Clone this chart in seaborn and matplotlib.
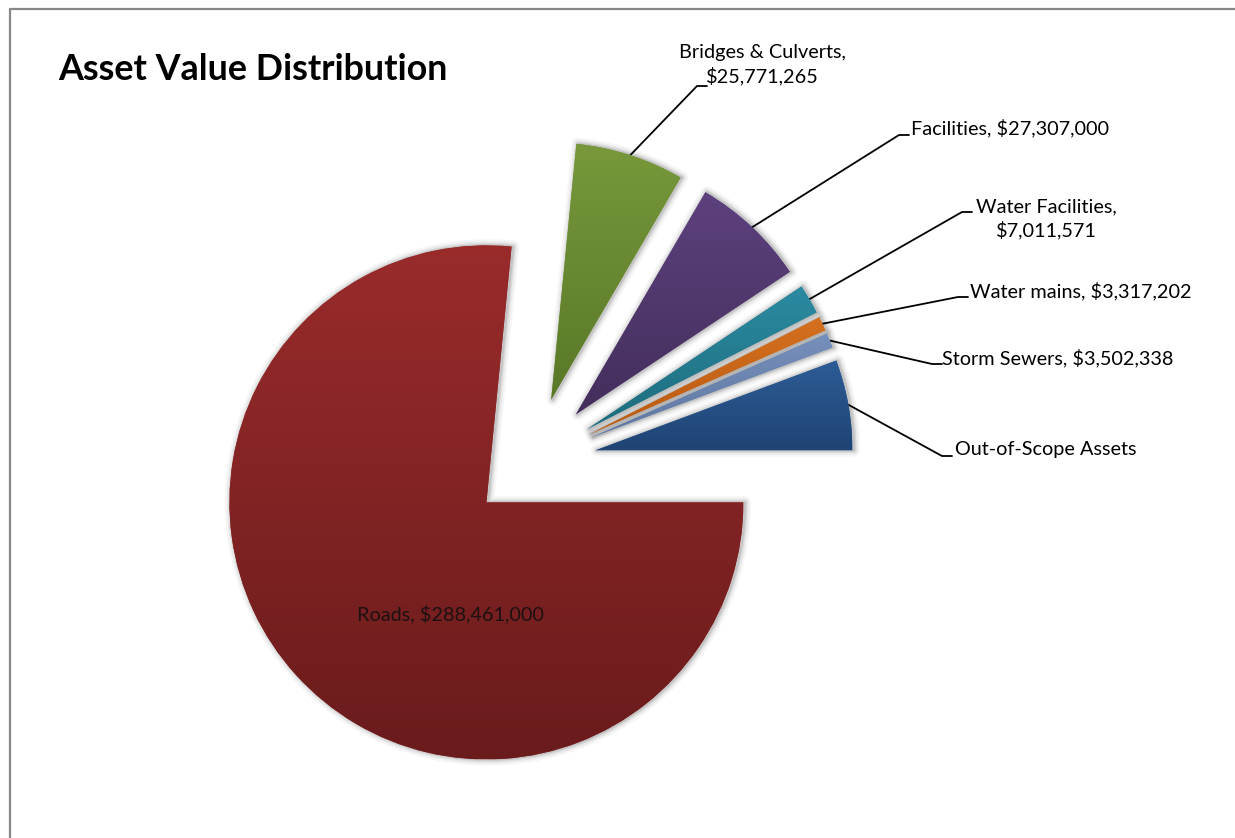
import numpy as np
import matplotlib
matplotlib.use("Agg")
import matplotlib.pyplot as plt
from matplotlib.colors import LinearSegmentedColormap
from matplotlib.lines import Line2D
from matplotlib.patches import Wedge
import seaborn as sns

# ---- data -------------------------------------------------------------
categories = ["Roads", "Bridges & Culverts", "Facilities", "Water Facilities",
              "Water mains", "Storm Sewers", "Out-of-Scope Assets"]
values = [288461000, 25771265, 27307000, 7011571, 3317202, 3502338, 21400000]
show_value = [True, True, True, True, True, True, False]
two_line = [False, True, False, True, False, False, False]

# ---- style -------------------------------------------------------------
explode = [0.234, 0.255, 0.255, 0.255, 0.255, 0.255, 0.255]
top_colors = ["#992B2B", "#78983B", "#5D417E", "#2B8BA1", "#D5701F", "#7690BC", "#2D5C96"]
bottom_colors = ["#6A1B1C", "#587828", "#432E5B", "#1E6C7E", "#B85A12", "#5F78A0", "#1F4474"]

sns.set_theme(style="white")
plt.rcParams["font.family"] = ["Lato", "DejaVu Sans"]

W, H, DPI = 1235, 838, 100
CX, CY, R = 531, 462, 257          # pie centre and radius in pixels


def scr(x, y):
    """Pixel position (origin top-left) -> data units of the pie axes."""
    return ((x - CX) / R, (CY - y) / R)


fig = plt.figure(figsize=(W / DPI, H / DPI), dpi=DPI, facecolor="white")
ax = fig.add_axes([0, 0, 1, 1])

wedges, _ = ax.pie(values, explode=explode, startangle=0, counterclock=False,
                   radius=1.0, colors=top_colors,
                   wedgeprops=dict(linewidth=0, zorder=3))

# soft shadow under every slice, nudged slightly to the right
shift = 1.5 / R
for w in wedges:
    c = (w.center[0] + shift, w.center[1])
    for lw, a in [(9, 0.035), (6, 0.05), (3.5, 0.07), (1.8, 0.09)]:
        halo = Wedge(c, w.r, w.theta1, w.theta2, facecolor="none",
                     edgecolor="black", linewidth=lw, alpha=a,
                     joinstyle="round", zorder=2)
        ax.add_patch(halo)

# vertical gradient fill clipped to each slice
grad = np.linspace(0, 1, 256).reshape(-1, 1)
for w, ct, cb in zip(wedges, top_colors, bottom_colors):
    ext = w.get_path().get_extents()
    cmap = LinearSegmentedColormap.from_list("slice", [ct, cb])
    im = ax.imshow(grad, extent=[ext.x0, ext.x1, ext.y0, ext.y1], origin="upper",
                   cmap=cmap, aspect="auto", interpolation="bilinear", zorder=4)
    im.set_clip_path(w)

# ---- labels -------------------------------------------------------------
label_fs = 14.3
layout = {
    "Bridges & Culverts": dict(xy=(762, 65), ha="center", elbow=(697, 86), end=(707, 86)),
    "Facilities": dict(xy=(911, 128), ha="left", elbow=(899, 135), end=(909, 135)),
    "Water Facilities": dict(xy=(1046, 219), ha="center", elbow=(962, 212), end=(972, 212)),
    "Water mains": dict(xy=(970, 291), ha="left", elbow=(958, 297), end=(968, 297)),
    "Storm Sewers": dict(xy=(942, 358), ha="left", elbow=(932, 364), end=(942, 364)),
    "Out-of-Scope Assets": dict(xy=(955, 449), ha="left", elbow=(942, 456), end=(952, 456)),
}

for w, name, val, sv, tl in zip(wedges, categories, values, show_value, two_line):
    if sv:
        sep = ",\n" if tl else ", "
        text = f"{name}{sep}${val:,}"
    else:
        text = name
    if name == "Roads":
        ax.text(*scr(450, 614), text, ha="center", va="center",
                fontsize=label_fs, color="#1d1010", zorder=6)
        continue
    lay = layout[name]
    mid = np.deg2rad(0.5 * (w.theta1 + w.theta2))
    p0 = (w.center[0] + w.r * np.cos(mid), w.center[1] + w.r * np.sin(mid))
    p1 = scr(*lay["elbow"])
    p2 = scr(*lay["end"])
    ax.plot([p0[0], p1[0], p2[0]], [p0[1], p1[1], p2[1]], color="black",
            linewidth=1.3, solid_joinstyle="miter", zorder=1)
    ax.text(*scr(*lay["xy"]), text, ha=lay["ha"], va="center",
            fontsize=label_fs, color="black", linespacing=1.35, zorder=6)

ax.text(*scr(58, 69), "Asset Value Distribution", ha="left", va="center",
        fontsize=25.8, fontweight="bold", color="black", zorder=6)

ax.set_xlim(-CX / R, (W - CX) / R)
ax.set_ylim(-(H - CY) / R, CY / R)
ax.set_aspect("auto")
ax.axis("off")

# chart-area border (top and left edges)
border = dict(color="#888888", linewidth=1.6, transform=fig.transFigure)
fig.add_artist(Line2D([10 / W, 1.0], [1 - 9 / H, 1 - 9 / H], **border))
fig.add_artist(Line2D([10 / W, 10 / W], [0.0, 1 - 9 / H], **border))

fig.savefig("out.png", dpi=DPI, facecolor="white")
